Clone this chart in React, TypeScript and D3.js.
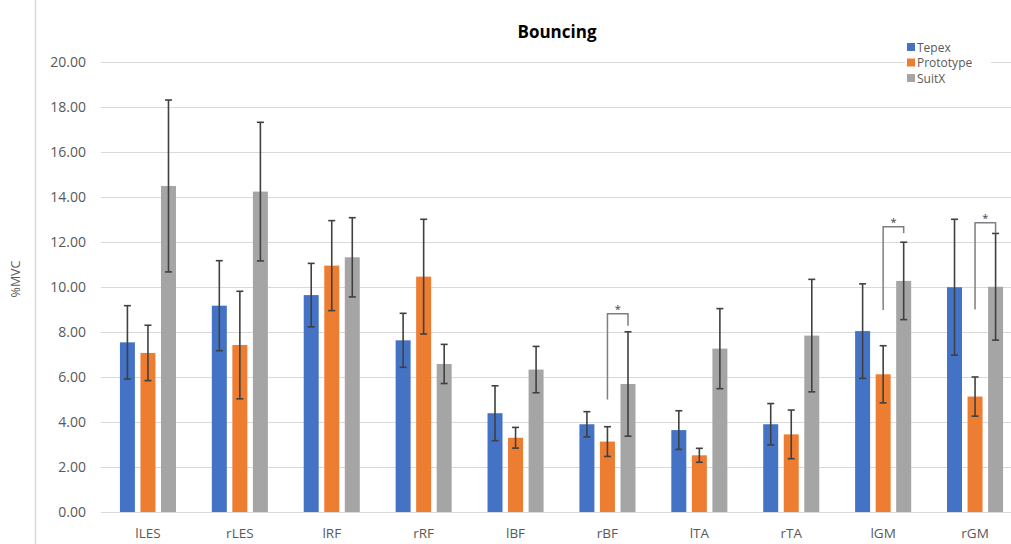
import { useRef, useEffect } from 'react';
import * as d3 from 'd3';

const categories = ['lLES', 'rLES', 'lRF', 'rRF', 'lBF', 'rBF', 'lTA', 'rTA', 'lGM', 'rGM'];
const seriesNames = ['Tepex', 'Prototype', 'SuitX'];
const seriesColors = ['#4472C4', '#ED7D31', '#A5A5A5'];

const tepex = [7.54, 9.17, 9.64, 7.63, 4.39, 3.90, 3.64, 3.90, 8.04, 9.99];
const tepexErr = [1.63, 2.0, 1.41, 1.2, 1.22, 0.56, 0.86, 0.92, 2.1, 3.02];
const prototype = [7.07, 7.42, 10.95, 10.46, 3.30, 3.13, 2.52, 3.45, 6.12, 5.13];
const prototypeErr = [1.23, 2.39, 2.0, 2.55, 0.46, 0.66, 0.31, 1.08, 1.27, 0.87];
const suitx = [14.49, 14.24, 11.32, 6.58, 6.33, 5.69, 7.26, 7.84, 10.27, 10.01];
const suitxErr = [3.82, 3.08, 1.76, 0.87, 1.03, 2.32, 1.78, 2.5, 1.72, 2.37];

const yTicks = [0, 2, 4, 6, 8, 10, 12, 14, 16, 18, 20];

// significance brackets: category, left leg bottom, top, right leg bottom
const brackets = [
  { cat: 'rBF', low: 5.0, top: 8.81, right: 8.28 },
  { cat: 'lGM', low: 8.98, top: 12.68, right: 12.39 },
  { cat: 'rGM', low: 9.0, top: 12.86, right: 12.39 },
];

const W = 1011;
const H = 544;

export default function App() {
  const ref = useRef<SVGSVGElement>(null);

  useEffect(() => {
    if (!ref.current) return;
    const svg = d3.select(ref.current);
    svg.selectAll('*').remove();

    const values = [tepex, prototype, suitx];
    const errs = [tepexErr, prototypeErr, suitxErr];

    const x = d3.scaleBand<string>().domain(categories).range([102, 1021]).paddingInner(0.39).paddingOuter(0.195);
    const xs = d3.scaleBand<string>().domain(seriesNames).range([0, x.bandwidth()]).paddingInner(0.27);
    const y = d3.scaleLinear().domain([0, 20]).range([512, 62]);

    // left frame line
    svg.append('line')
      .attr('x1', 35.5).attr('x2', 35.5).attr('y1', 0).attr('y2', H)
      .style('stroke', '#d9d9d9').style('stroke-width', 1.5);

    // gridlines
    svg.append('g').selectAll('line').data(yTicks).join('line')
      .attr('x1', 101).attr('x2', W)
      .attr('y1', d => Math.round(y(d)) + 0.5).attr('y2', d => Math.round(y(d)) + 0.5)
      .style('stroke', '#d9d9d9').style('stroke-width', 1.2);

    svg.append('g').selectAll('text').data(yTicks).join('text')
      .attr('x', 86).attr('y', d => y(d) + 5)
      .attr('text-anchor', 'end')
      .style('font-family', 'Open Sans, sans-serif').style('font-size', '14px').style('fill', '#595959')
      .text(d => d.toFixed(2));

    svg.append('text')
      .attr('transform', `translate(20,279) rotate(-90)`)
      .attr('text-anchor', 'middle')
      .style('font-family', 'Open Sans, sans-serif').style('font-size', '12.5px').style('fill', '#595959')
      .text('%MVC');

    // bars
    seriesNames.forEach((s, si) => {
      const g = svg.append('g');
      g.selectAll('rect').data(categories).join('rect')
        .attr('x', (c) => (x(c) ?? 0) + (xs(s) ?? 0))
        .attr('y', (_c, i) => y(values[si][i]))
        .attr('width', xs.bandwidth())
        .attr('height', (_c, i) => y(0) - y(values[si][i]))
        .style('fill', seriesColors[si]);
    });

    // error bars
    seriesNames.forEach((s, si) => {
      const g = svg.append('g').style('stroke', '#404040').style('stroke-width', 1.6);
      categories.forEach((c, i) => {
        const cx = (x(c) ?? 0) + (xs(s) ?? 0) + xs.bandwidth() / 2;
        const hi = y(values[si][i] + errs[si][i]);
        const lo = y(values[si][i] - errs[si][i]);
        g.append('line').attr('x1', cx).attr('x2', cx).attr('y1', hi).attr('y2', lo);
        g.append('line').attr('x1', cx - 3.5).attr('x2', cx + 3.5).attr('y1', hi).attr('y2', hi);
        g.append('line').attr('x1', cx - 3.5).attr('x2', cx + 3.5).attr('y1', lo).attr('y2', lo);
      });
    });

    // significance brackets
    brackets.forEach(b => {
      const lx = (x(b.cat) ?? 0) + (xs('Prototype') ?? 0) + xs.bandwidth() / 2;
      const rx = (x(b.cat) ?? 0) + (xs('SuitX') ?? 0) + xs.bandwidth() / 2;
      svg.append('path')
        .attr('d', `M${lx},${y(b.low)}V${y(b.top)}H${rx}V${y(b.right)}`)
        .style('fill', 'none').style('stroke', '#7f7f7f').style('stroke-width', 1.5);
      svg.append('text')
        .attr('x', (lx + rx) / 2).attr('y', y(b.top) - 1)
        .attr('text-anchor', 'middle')
        .style('font-family', 'Open Sans, sans-serif').style('font-size', '11px').style('fill', '#404040')
        .text('*');
    });

    // x labels
    svg.append('g').selectAll('text').data(categories).join('text')
      .attr('x', c => (x(c) ?? 0) + x.bandwidth() / 2)
      .attr('y', 538)
      .attr('text-anchor', 'middle')
      .style('font-family', 'Open Sans, sans-serif').style('font-size', '13.5px').style('fill', '#595959')
      .text(c => c);

    // title
    svg.append('text')
      .attr('x', 557).attr('y', 38)
      .attr('text-anchor', 'middle')
      .style('font-family', 'Open Sans, sans-serif').style('font-size', '17px').style('font-weight', 'bold')
      .style('fill', '#000')
      .text('Bouncing');

    // legend
    const legend = svg.append('g').attr('transform', 'translate(905,39)');
    legend.append('rect').attr('x', 0).attr('y', 0).attr('width', 86).attr('height', 46).style('fill', '#fff');
    seriesNames.forEach((s, si) => {
      const row = legend.append('g').attr('transform', `translate(0,${si * 15.5})`);
      row.append('rect').attr('x', 2).attr('y', 4).attr('width', 8).attr('height', 8).style('fill', seriesColors[si]);
      row.append('text').attr('x', 12).attr('y', 12.5)
        .style('font-family', 'Open Sans, sans-serif').style('font-size', '12px').style('fill', '#595959')
        .text(s);
    });
  }, []);

  return (
    <svg
      ref={ref}
      width={W}
      height={H}
      style={{ position: 'absolute', left: 0, top: 0, display: 'block', background: '#fff' }}
    />
  );
}
